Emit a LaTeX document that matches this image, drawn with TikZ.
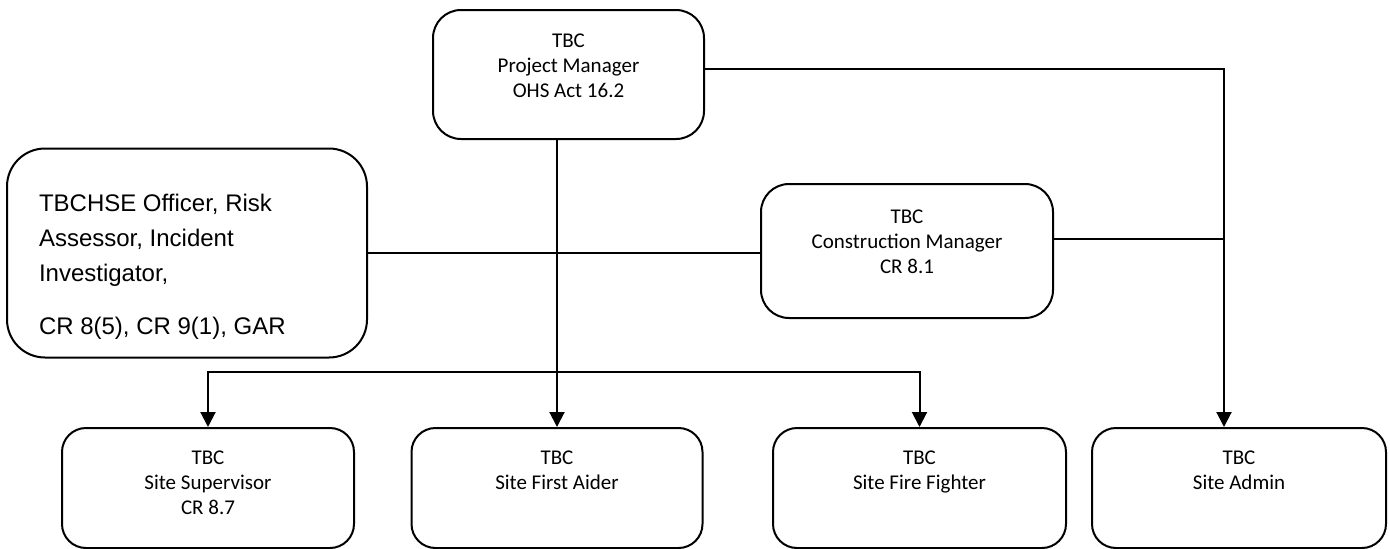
\documentclass[tikz,border=0pt]{standalone}
\usepackage{fontspec}
\newfontfamily\calibri{Carlito}
\newfontfamily\arial{Liberation Sans}
\usetikzlibrary{arrows.meta}
\usetikzlibrary{positioning}

\begin{document}
\begin{tikzpicture}[x=1pt,y=-1pt,line width=2pt,
        role/.style={draw,rounded corners=24pt,minimum width=292pt,minimum height=120pt,inner sep=0pt},
        txt/.style={align=center,inner sep=0pt,outer sep=0pt,font=\calibri\fontsize{21}{25}\selectfont},
        arr/.style={-{Triangle[width=15pt,length=15pt]}}]
    \useasboundingbox (0,0) rectangle (1390,549);
    % top and middle boxes
    \node[role,minimum width=271pt,minimum height=129pt,rounded corners=28pt] (pm) at (568.5,74.5) {};
    \node[txt,below=25pt of pm.north] (pm_t) {TBC\\Project Manager\\OHS Act 16.2};
    \node[role,minimum width=360pt,minimum height=209pt,rounded corners=38pt] (hse) at (187,253) {};
    \node[anchor=north west,align=left,inner sep=0pt,font=\arial\fontsize{24}{35}\selectfont] (hse_t) at (38,193.5)
        {TBCHSE Officer, Risk\\Assessor, Incident\\Investigator,\\[17.5pt]CR 8(5), CR 9(1), GAR};
    \node[role,minimum height=134pt,rounded corners=28pt] (cm) at (907,251) {};
    \node[txt,below=27pt of cm.north] (cm_t) {TBC\\Construction Manager\\CR 8.1};
    % site roles
    \node[role] (sup) at (208,488) {};
    \node[txt,below=24pt of sup.north] (sup_t) {TBC\\Site Supervisor\\CR 8.7};
    \node[role,minimum width=291pt] (aid) at (557,488) {};
    \node[txt,below=24pt of aid.north] (aid_t) {TBC\\Site First Aider};
    \node[role,minimum width=293pt] (fire) at (919.5,488) {};
    \node[txt,below=24pt of fire.north] (fire_t) {TBC\\Site Fire Fighter};
    \node[role,minimum width=294pt] (adm) at (1239,488) {};
    \node[txt,below=24pt of adm.north] (adm_t) {TBC\\Site Admin};
    % connectors
    \coordinate (bus) at (557,372);
    \coordinate (corner) at (1224,69);
    \draw[arr] (aid.north |- pm.south) -- (aid.north);
    \draw[arr] (bus) -| (sup.north);
    \draw[arr] (bus) -| (fire.north);
    \draw (hse.east) -- (hse.east -| cm.west);
    \draw[arr] (pm.east |- corner) -- (corner) -- (corner |- adm.north);
    \draw ([yshift=12pt]cm.east) -- ([yshift=12pt]cm.east -| corner);
\end{tikzpicture}
\end{document}
